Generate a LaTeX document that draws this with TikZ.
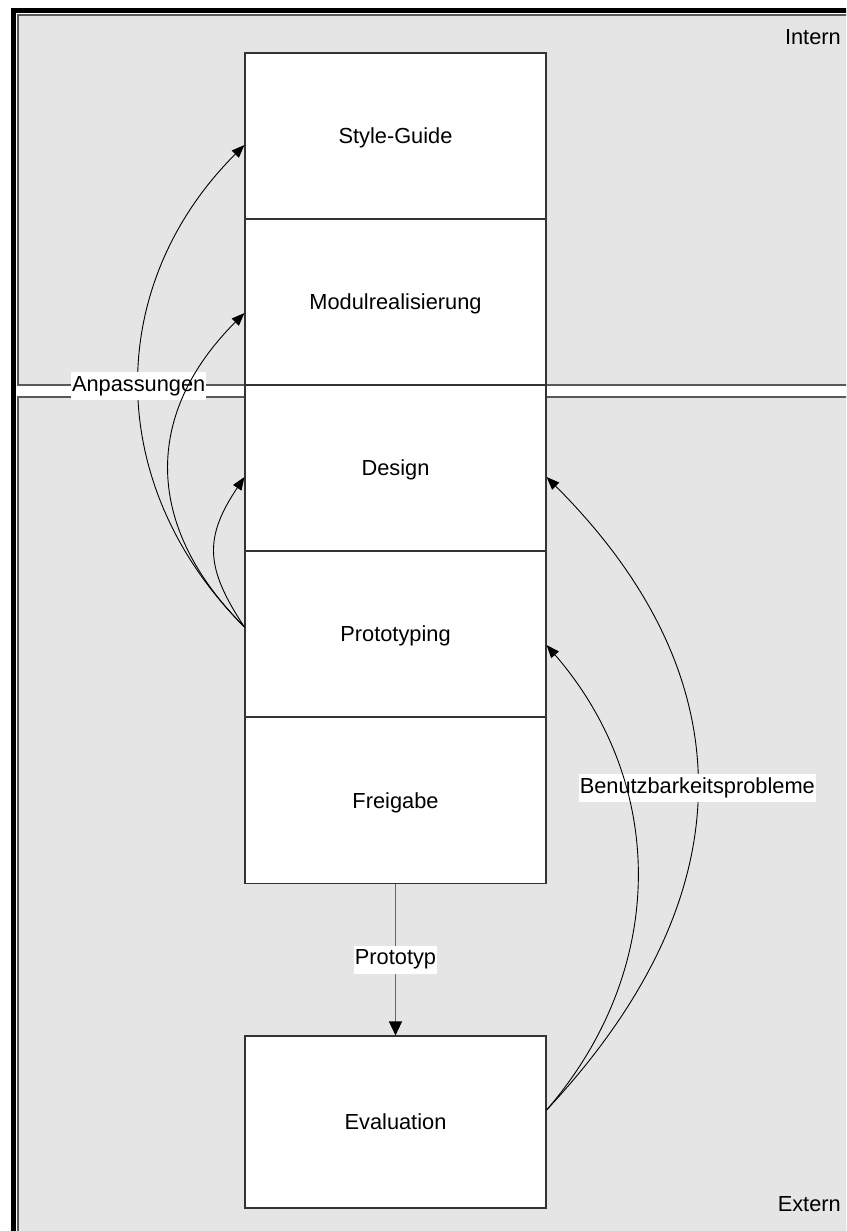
\documentclass[tikz,border=0pt]{standalone}
\usepackage{fontspec}
\setmainfont{Liberation Sans}
\usetikzlibrary{arrows.meta,calc}
\definecolor{panelgray}{RGB}{229,229,229}
\begin{document}
\begin{tikzpicture}[x=1pt,y=-1pt,
  txt/.style={font=\fontsize{21.8}{26}\selectfont},
  panel/.style={fill=panelgray,draw=black!65,line width=1.2pt},
  phase/.style={txt,draw=black!80,line width=1.1pt,fill=white,
    minimum width=301pt,minimum height=166pt,inner sep=0pt,text depth=0pt},
  flow/.style={draw=black,line width=0.9pt,
    -{Triangle[length=13pt,width=10pt]}},
  tag/.style={txt,fill=white,inner xsep=1pt,inner ysep=4pt},
  zone/.style={txt,inner sep=0pt}
]
\useasboundingbox (0,0) rectangle (846,1231);
\clip (0,0) rectangle (846,1231);
\fill[white] (0,0) rectangle (846,1231);

% outer frame and the two zones
\draw[line width=5pt] (13.5,10.5) rectangle (880,1260);
\draw[panel] (18,15) rectangle (870,385);
\draw[panel] (18,397) rectangle (870,1250);
\node[zone,anchor=base east] (intern) at (841,45) {Intern};
\node[zone,anchor=base east] (extern) at (841,1211) {Extern};

% process phases
\node[phase] (sg)   at (395.5,136)   {Style-Guide};
\node[phase] (mod)  at (395.5,302)   {Modulrealisierung};
\node[phase] (des)  at (395.5,468)   {Design};
\node[phase] (pro)  at (395.5,634)   {Prototyping};
\node[phase] (frei) at (395.5,800.5) {Freigabe};
\node[phase,minimum height=172pt] (eval) at (395.5,1122) {Evaluation};

% prototype handed over for evaluation
\draw[draw=black!60,line width=1.2pt,
  -{Triangle[length=14pt,width=13pt,fill=black,color=black]}]
  (frei.south) -- node[tag] {Prototyp} (eval.north);

% adjustments fed back from prototyping
\draw[flow] ([yshift=7pt]pro.west) .. controls +(-141,-141) and +(-141,141) ..
  ([yshift=-9pt]sg.west) node[tag,pos=0.5] {Anpassungen};
\draw[flow] ([yshift=7pt]pro.west) .. controls +(-101,-101) and +(-101,101) ..
  ([yshift=-11pt]mod.west);
\draw[flow] ([yshift=7pt]pro.west) .. controls +(-40,-60) and +(-40,60) ..
  ([yshift=-9pt]des.west);

% usability problems fed back from evaluation
\draw[flow] ([yshift=12pt]eval.east) .. controls +(201,-215) and +(201,201) ..
  ([yshift=-9pt]des.east) node[tag,pos=0.5] {Benutzbarkeitsprobleme};
\draw[flow] ([yshift=12pt]eval.east) .. controls +(121,-140) and +(121,140) ..
  ([yshift=-11pt]pro.east);
\end{tikzpicture}
\end{document}
